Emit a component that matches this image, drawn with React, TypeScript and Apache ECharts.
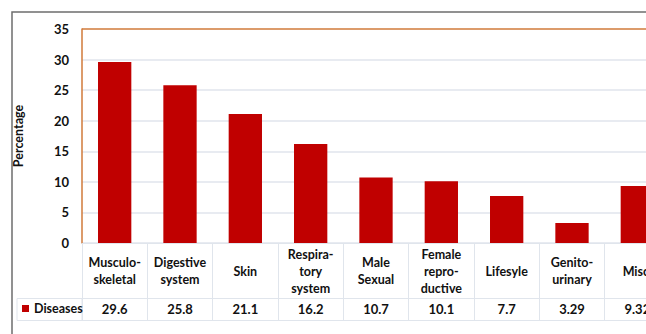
import React, { useEffect, useRef } from "react";
import * as echarts from "echarts";

const categories = [
  "Musculo-\nskeletal",
  "Digestive\nsystem",
  "Skin",
  "Respira-\ntory\nsystem",
  "Male\nSexual",
  "Female\nrepro-\nductive",
  "Lifesyle",
  "Genito-\nurinary",
  "Misc.",
];
const values = [29.6, 25.8, 21.1, 16.2, 10.7, 10.1, 7.7, 3.29, 9.32];
const seriesName = "Diseases";
const yAxisTitle = "Percentage";
const yMin = 0;
const yMax = 35;
const yInterval = 5;

const FONT = "Lato, 'Open Sans', sans-serif";
const GRID_LINE = "#E0E5EC";
const ORANGE = "#D07A3A";

export default function App() {
  const ref = useRef<HTMLDivElement>(null);
  useEffect(() => {
    if (!ref.current) return;
    const chart = echarts.init(ref.current, null, { renderer: "svg" });
    const nTicks = Math.round((yMax - yMin) / yInterval) + 1;
    const splitColors = Array.from({ length: nTicks }, (_, i) =>
      i === nTicks - 1 ? ORANGE : GRID_LINE
    );
    chart.setOption({
      animation: false,
      backgroundColor: "#ffffff",
      textStyle: { fontFamily: FONT },
      grid: { left: 82, top: 29, width: 588, height: 214, containLabel: false },
      legend: {
        data: [seriesName],
        left: 17,
        top: 297,
        icon: "rect",
        itemWidth: 7,
        itemHeight: 7,
        itemGap: 4,
        textStyle: { fontFamily: FONT, fontSize: 12.5, fontWeight: "bold", color: "#111" },
      },
      xAxis: [
        {
          type: "category",
          data: categories,
          position: "bottom",
          axisLine: { show: true, lineStyle: { color: GRID_LINE, width: 1 } },
          axisTick: { show: true, alignWithLabel: false, length: 77, interval: 0, lineStyle: { color: GRID_LINE } },
          axisLabel: {
            interval: 0,
            margin: 28,
            verticalAlign: "middle",
            lineHeight: 17,
            fontFamily: FONT,
            fontSize: 12.5,
            fontWeight: "bold",
            color: "#111",
          },
        },
        {
          type: "category",
          data: values.map((v) => String(v)),
          position: "bottom",
          offset: 55,
          axisLine: { show: true, lineStyle: { color: GRID_LINE, width: 1 } },
          axisTick: { show: false },
          axisLabel: {
            interval: 0,
            margin: 11,
            verticalAlign: "middle",
            fontFamily: FONT,
            fontSize: 13,
            fontWeight: "bold",
            color: "#111",
          },
        },
      ],
      yAxis: {
        type: "value",
        min: yMin,
        max: yMax,
        interval: yInterval,
        name: yAxisTitle,
        nameLocation: "middle",
        nameGap: 57,
        nameTextStyle: { fontFamily: FONT, fontSize: 12.5, fontWeight: "bold", color: "#111" },
        axisLine: { show: true, lineStyle: { color: ORANGE, width: 1.5 } },
        axisTick: { show: false },
        axisLabel: { margin: 13, fontFamily: FONT, fontSize: 13, fontWeight: "bold", color: "#111" },
        splitLine: { show: true, lineStyle: { color: splitColors, width: 1.5 } },
      },
      graphic: [
        {
          type: "rect",
          shape: { x: 12, y: 12, width: 760, height: 400 },
          style: { fill: "none", stroke: "#6E6E6E", lineWidth: 1.5 },
          silent: true,
        },
        {
          type: "line",
          shape: { x1: 17, y1: 298.5, x2: 82, y2: 298.5 },
          style: { stroke: GRID_LINE, lineWidth: 1 },
          silent: true,
        },
        {
          type: "line",
          shape: { x1: 17, y1: 320.5, x2: 700, y2: 320.5 },
          style: { stroke: GRID_LINE, lineWidth: 1 },
          silent: true,
        },
        {
          type: "line",
          shape: { x1: 17, y1: 298.5, x2: 17, y2: 320.5 },
          style: { stroke: GRID_LINE, lineWidth: 1 },
          silent: true,
        },
        {
          type: "line",
          shape: { x1: 82, y1: 298.5, x2: 82, y2: 320.5 },
          style: { stroke: GRID_LINE, lineWidth: 1 },
          silent: true,
        },
      ],
      series: [
        {
          name: seriesName,
          type: "bar",
          data: values,
          xAxisIndex: 0,
          barCategoryGap: "49%",
          itemStyle: { color: "#C00000" },
        },
      ],
    });
    return () => chart.dispose();
  }, []);
  return (
    <div
      style={{
        position: "absolute",
        left: 0,
        top: 0,
        width: 646,
        height: 334,
        overflow: "hidden",
        background: "#fff",
      }}
    >
      <div ref={ref} style={{ width: 760, height: 334 }} />
    </div>
  );
}
